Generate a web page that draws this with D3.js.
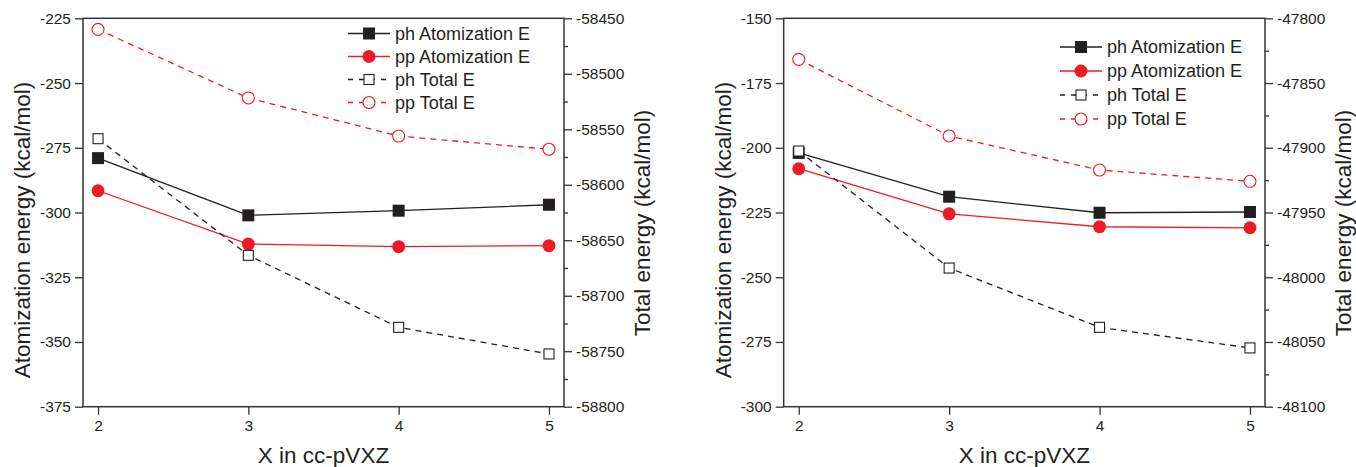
<!DOCTYPE html>
<html>
<head>
<meta charset="utf-8">
<script src="https://cdn.jsdelivr.net/npm/d3@7"></script>
<style>
  html, body { margin: 0; padding: 0; background: #fff; }
  svg { display: block; font-family: "Liberation Sans", Arial, sans-serif; }
</style>
</head>
<body>
<svg id="chart" width="1356" height="467"></svg>
<script>
// basis set cardinal number X
const xValues = [2, 3, 4, 5];

// left panel
const leftPhAtom = [-279.0, -301.1, -299.3, -297.0];
const leftPpAtom = [-291.6, -312.2, -313.2, -312.8];
const leftPhTotal = [-58558.5, -58663.6, -58728.5, -58752.5];
const leftPpTotal = [-58460.0, -58521.8, -58556.1, -58568.0];
const leftAtomTicks = [-375, -350, -325, -300, -275, -250, -225];
const leftTotalTicks = [-58800, -58750, -58700, -58650, -58600, -58550, -58500, -58450];

// right panel
const rightPhAtom = [-202.0, -218.9, -225.1, -224.8];
const rightPpAtom = [-208.1, -225.5, -230.5, -230.9];
const rightPhTotal = [-47902.5, -47992.9, -48038.7, -48054.6];
const rightPpTotal = [-47831.7, -47890.9, -47917.2, -47925.9];
const rightAtomTicks = [-300, -275, -250, -225, -200, -175, -150];
const rightTotalTicks = [-48100, -48050, -48000, -47950, -47900, -47850, -47800];

const seriesNames = ['ph Atomization E', 'pp Atomization E', 'ph Total E', 'pp Total E'];
const xTitle = 'X in cc-pVXZ';
const leftTitle = 'Atomization energy (kcal/mol)';
const rightTitle = 'Total energy (kcal/mol)';

const BLACK = '#231f20';
const RED = '#ed1c24';
const AXIS = '#333';

const styles = [
  { color: BLACK, dash: null, shape: 'square', filled: true, axis: 'left' },
  { color: RED, dash: null, shape: 'circle', filled: true, axis: 'left' },
  { color: BLACK, dash: '6,5', shape: 'square', filled: false, axis: 'right' },
  { color: RED, dash: '6,5', shape: 'circle', filled: false, axis: 'right' },
];

// plain hyphen minus, no thousands separator
const fmt = d => String(d);

const svg = d3.select('#chart');

function drawMarker(g, style, x, y) {
  if (style.shape === 'square') {
    const s = style.filled ? 12 : 10;
    g.append('rect')
      .attr('x', x - s / 2).attr('y', y - s / 2)
      .attr('width', s).attr('height', s)
      .attr('fill', style.filled ? style.color : '#fff')
      .attr('stroke', style.color)
      .attr('stroke-width', style.filled ? 0 : 1.1);
  } else {
    g.append('circle')
      .attr('cx', x).attr('cy', y)
      .attr('r', style.filled ? 6.5 : 6)
      .attr('fill', style.filled ? style.color : '#fff')
      .attr('stroke', style.color)
      .attr('stroke-width', style.filled ? 0 : 1.1);
  }
}

function drawPanel(p) {
  const g = svg.append('g');

  const x = d3.scaleLinear().domain([1.9, 5.1]).range([p.left, p.right]);
  const yL = d3.scaleLinear().domain(d3.extent(p.atomTicks)).range([p.bottom, p.top]);
  const yR = d3.scaleLinear().domain(d3.extent(p.totalTicks)).range([p.bottom, p.top]);

  // bottom axis
  g.append('g')
    .attr('transform', `translate(0, ${p.bottom})`)
    .call(d3.axisBottom(x).tickValues(xValues).tickFormat(fmt).tickSize(8).tickSizeOuter(0).tickPadding(5));

  // left axis
  g.append('g')
    .attr('transform', `translate(${p.left}, 0)`)
    .call(d3.axisLeft(yL).tickValues(p.atomTicks).tickFormat(fmt).tickSize(8).tickSizeOuter(0).tickPadding(4));

  // right axis, minor ticks then major
  const minor = [];
  for (let i = 0; i < p.totalTicks.length - 1; i++) {
    minor.push((p.totalTicks[i] + p.totalTicks[i + 1]) / 2);
  }
  g.append('g')
    .attr('transform', `translate(${p.right}, 0)`)
    .call(d3.axisRight(yR).tickValues(minor).tickSize(4).tickSizeOuter(0).tickFormat(''));
  g.append('g')
    .attr('transform', `translate(${p.right}, 0)`)
    .call(d3.axisRight(yR).tickValues(p.totalTicks).tickFormat(fmt).tickSize(8).tickSizeOuter(0).tickPadding(4));

  g.selectAll('.domain').remove();
  g.selectAll('.tick line').attr('stroke', AXIS).attr('stroke-width', 1.3);
  g.selectAll('.tick text')
    .attr('fill', BLACK)
    .style('font-size', '15.5px')
    .style('font-family', '"Liberation Sans", Arial, sans-serif');

  // frame
  g.append('rect')
    .attr('x', p.left).attr('y', p.top)
    .attr('width', p.right - p.left).attr('height', p.bottom - p.top)
    .attr('fill', 'none')
    .attr('stroke', AXIS)
    .attr('stroke-width', 1.5);

  // series
  p.series.forEach((vals, i) => {
    const st = styles[i];
    const y = st.axis === 'left' ? yL : yR;
    const pts = vals.map((v, j) => [x(xValues[j]), y(v)]);
    g.append('path')
      .attr('d', d3.line()(pts))
      .attr('fill', 'none')
      .attr('stroke', st.color)
      .attr('stroke-width', 1.3)
      .attr('stroke-dasharray', st.dash);
    pts.forEach(pt => drawMarker(g, st, pt[0], pt[1]));
  });

  // legend
  seriesNames.forEach((name, i) => {
    const st = styles[i];
    const ly = p.legendY + i * p.legendStep;
    g.append('line')
      .attr('x1', p.legendX).attr('x2', p.legendX + 42)
      .attr('y1', ly).attr('y2', ly)
      .attr('stroke', st.color)
      .attr('stroke-width', 1.3)
      .attr('stroke-dasharray', st.dash ? '5,6' : null);
    drawMarker(g, st, p.legendX + 21, ly);
    g.append('text')
      .attr('x', p.legendX + 47).attr('y', ly)
      .attr('dy', '0.36em')
      .attr('fill', BLACK)
      .style('font-size', '18px')
      .text(name);
  });

  // axis titles
  g.append('text')
    .attr('x', (p.left + p.right) / 2).attr('y', 463)
    .attr('text-anchor', 'middle')
    .attr('fill', BLACK)
    .style('font-size', '22.5px')
    .text(xTitle);
  g.append('text')
    .attr('transform', `translate(${p.left - 61}, 230) rotate(-90)`)
    .attr('text-anchor', 'middle')
    .attr('dy', '0.36em')
    .attr('fill', BLACK)
    .style('font-size', '22.5px')
    .text(leftTitle);
  g.append('text')
    .attr('transform', `translate(${p.right + 78}, 223) rotate(-90)`)
    .attr('text-anchor', 'middle')
    .attr('dy', '0.36em')
    .attr('fill', BLACK)
    .style('font-size', '22.5px')
    .text(rightTitle);
}

drawPanel({
  left: 83, right: 564, top: 18.3, bottom: 406.7,
  atomTicks: leftAtomTicks, totalTicks: leftTotalTicks,
  series: [leftPhAtom, leftPpAtom, leftPhTotal, leftPpTotal],
  legendX: 348, legendY: 33.5, legendStep: 23,
});

drawPanel({
  left: 783.7, right: 1265, top: 18.3, bottom: 406.7,
  atomTicks: rightAtomTicks, totalTicks: rightTotalTicks,
  series: [rightPhAtom, rightPpAtom, rightPhTotal, rightPpTotal],
  legendX: 1060, legendY: 47, legendStep: 24,
});
</script>
</body>
</html>
